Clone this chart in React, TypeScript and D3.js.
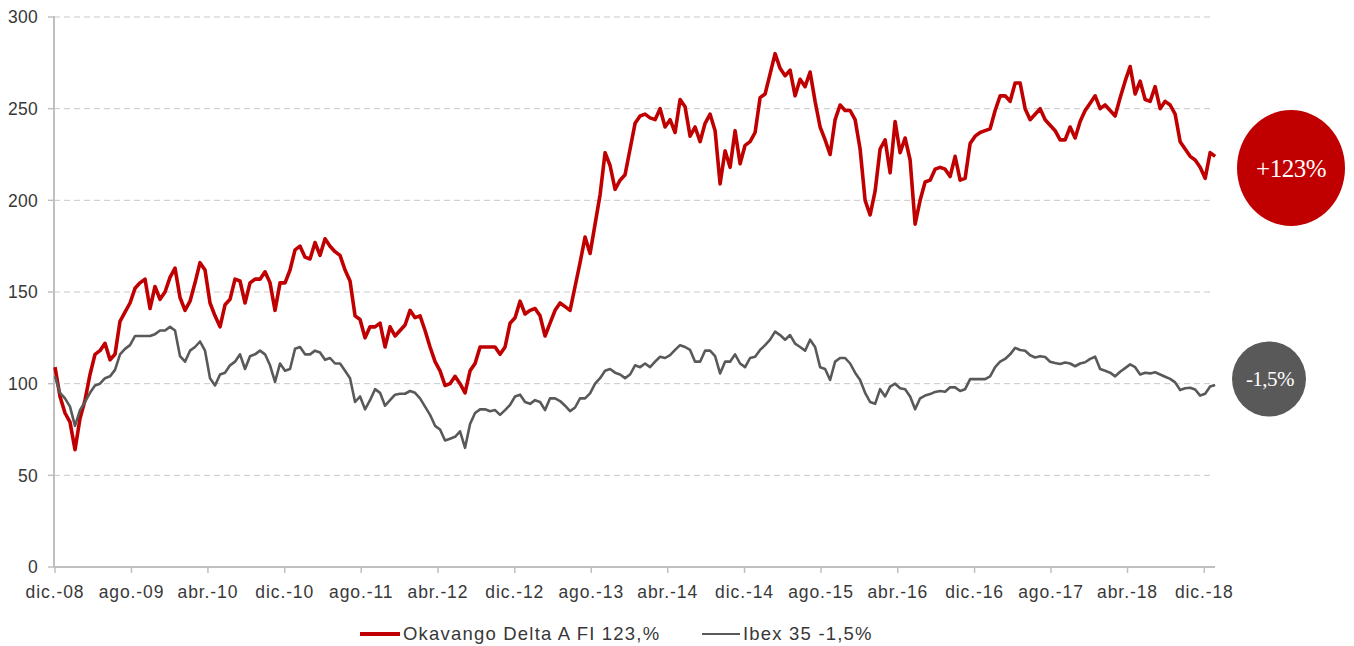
import * as d3 from 'd3';

// Fondo vs índice, base 100 (lecturas quincenales aprox.)
const okavango = [
  109, 93, 84, 79, 64, 81, 91, 105, 116, 118, 122, 113, 116, 134, 139, 144, 152, 155, 157, 141,
  153, 146, 150, 158, 163, 147, 140, 145, 155, 166, 162, 144, 137, 131, 143, 146, 157, 156, 144, 155,
  157, 157, 161, 155, 140, 155, 155, 162, 173, 175, 169, 168, 177, 170, 179, 175, 172, 170, 162, 156,
  137, 135, 125, 131, 131, 133, 120, 131, 126, 129, 132, 140, 136, 137, 129, 120, 112, 107, 99, 100,
  104, 100, 95, 107, 111, 120, 120, 120, 120, 116, 120, 133, 136, 145, 138, 140, 141, 137, 126, 133,
  140, 144, 142, 140, 153, 166, 180, 171, 187, 203, 226, 219, 206, 211, 214, 228, 242, 246, 247, 245,
  244, 250, 240, 244, 237, 255, 251, 235, 240, 232, 242, 247, 238, 209, 227, 218, 238, 220, 230, 232,
  237, 256, 258, 269, 280, 272, 268, 271, 257, 266, 262, 270, 254, 240, 233, 225, 244, 252, 249, 249,
  244, 228, 200, 192, 205, 228, 233, 215, 243, 226, 234, 222, 187, 200, 210, 211, 217, 218, 217, 213,
  224, 211, 212, 231, 235, 237, 238, 239, 249, 257, 257, 254, 264, 264, 250, 244, 247, 250, 244, 241,
  238, 233, 233, 240, 234, 243, 249, 253, 257, 250, 252, 249, 246, 256, 265, 273, 258, 265, 255, 254,
  262, 250, 254, 252, 247, 232, 228, 224, 222, 218, 212, 226, 224,
];

const ibex = [
  104, 95, 92, 87.5, 77, 85.6, 90, 95, 99, 100, 103, 104, 107.5, 116, 119, 121, 126, 126, 126, 126,
  127, 129, 129, 131, 129, 115, 112, 118, 120, 123, 118, 103, 99, 105, 106, 110, 112, 116, 108, 115,
  116, 118, 116, 110, 101, 111, 107, 108, 119, 120, 116, 116, 118, 117, 113, 114, 111, 111, 107, 103,
  90, 93, 86, 91, 97, 95, 88, 91, 94, 94.5, 94.5, 96, 95, 92, 87.5, 83, 77, 75, 69, 70,
  71, 74, 65, 78, 84, 86, 86, 85, 85.6, 83, 85.6, 88.4, 93, 94, 90, 89, 91, 90, 85.6, 92,
  92, 90.5, 88, 85, 87, 92, 92, 94.7, 100, 103, 107, 108, 106, 105, 103, 105, 110, 109, 111, 109,
  112, 114.7, 114, 115.6, 118.4, 121, 120, 118.4, 112, 112, 118, 118, 115, 105.6, 112, 112, 116, 111, 109, 114,
  114.7, 118.4, 121, 124, 128.4, 126.5, 124, 126.5, 121.8, 120, 118, 124, 120, 109, 108, 102, 112, 114, 114, 111,
  106, 102, 95, 90, 89, 97, 93, 98.4, 100, 97.5, 97, 93, 86, 92, 93.5, 94.3, 95.5, 96, 95.6, 98,
  98, 96, 97, 102.5, 102.5, 102.5, 102.5, 104, 109, 112, 113.5, 116, 119.5, 118.4, 118, 115.5, 114.3, 115, 114.5, 112,
  111.3, 110.7, 111.5, 111, 109.5, 111, 111.7, 113.5, 114.7, 108, 107, 106, 104, 106.5, 108.5, 110.5, 109, 105, 106, 105.6,
  106.2, 105, 103.8, 102.6, 100.7, 96.5, 97.5, 97.8, 96.8, 93.5, 94.5, 98.5, 99.3,
];

const startDate = new Date(2008, 11, 1);
const endDate = new Date(2019, 0, 4);
const stepDays = 15.89;
const dates = okavango.map((_, i) => new Date(startDate.getTime() + i * stepDays * 864e5));

const xTickLabels = [
  'dic.-08', 'ago.-09', 'abr.-10', 'dic.-10', 'ago.-11', 'abr.-12', 'dic.-12', 'ago.-13',
  'abr.-14', 'dic.-14', 'ago.-15', 'abr.-16', 'dic.-16', 'ago.-17', 'abr.-18', 'dic.-18',
];
const yTicks = [0, 50, 100, 150, 200, 250, 300];

const series = [
  { name: 'Okavango Delta A FI 123,%', values: okavango, color: '#c00000', width: 3.6 },
  { name: 'Ibex 35 -1,5%', values: ibex, color: '#595959', width: 2.6 },
];
const badges = [
  { label: '+123%', color: '#c00000' },
  { label: '-1,5%', color: '#595959' },
];

const W = 1354;
const H = 646;
const left = 55;
const right = 1215;
const top = 17;
const bottom = 567;

export default function App() {
  const x = d3.scaleTime().domain([startDate, endDate]).range([left, right]);
  const y = d3.scaleLinear().domain([0, 300]).range([bottom, top]);
  const tickDates = xTickLabels.map((_, i) => d3.timeMonth.offset(startDate, i * 8));

  const line = d3
    .line<number>()
    .x((_, i) => x(dates[i]))
    .y((d) => y(d))
    .curve(d3.curveLinear);

  const axisColor = '#bfbfbf';
  const font = '"Liberation Sans", Arial, sans-serif';

  return (
    <svg
      width={W}
      height={H}
      style={{ position: 'absolute', left: 0, top: 0, background: '#fff' }}
    >
      {/* grid */}
      {yTicks.filter((t) => t > 0).map((t) => (
        <line
          key={'g' + t}
          x1={left - 1}
          x2={right - 2}
          y1={y(t)}
          y2={y(t)}
          stroke="#c8c8c8"
          strokeWidth={1}
          strokeDasharray="6,4"
        />
      ))}

      {/* y axis */}
      <line x1={left - 1} x2={left - 1} y1={top - 1} y2={bottom} stroke={axisColor} strokeWidth={2} />
      {yTicks.map((t) => (
        <g key={'y' + t}>
          <line x1={left - 7} x2={left - 1} y1={y(t)} y2={y(t)} stroke={axisColor} strokeWidth={1.5} />
          <text
            x={38}
            y={y(t)}
            dy="0.36em"
            textAnchor="end"
            fontFamily={font}
            fontSize={17.5}
            letterSpacing={0.3}
            fill="#383838"
          >
            {t}
          </text>
        </g>
      ))}

      {/* x axis */}
      <line x1={left - 2} x2={right} y1={bottom} y2={bottom} stroke={axisColor} strokeWidth={2} />
      {tickDates.map((d, i) => (
        <g key={'x' + i}>
          <line x1={x(d)} x2={x(d)} y1={bottom} y2={bottom + 6} stroke={axisColor} strokeWidth={1.5} />
          <text
            x={x(d)}
            y={598}
            textAnchor="middle"
            fontFamily={font}
            fontSize={17.5}
            letterSpacing={0.9}
            fill="#383838"
          >
            {xTickLabels[i]}
          </text>
        </g>
      ))}

      {/* series */}
      {series.map((s) => (
        <path
          key={s.name}
          d={line(s.values) || ''}
          fill="none"
          stroke={s.color}
          strokeWidth={s.width}
          strokeLinejoin="round"
        />
      ))}

      {/* end badges */}
      <ellipse cx={1291} cy={168} rx={54} ry={58} fill={badges[0].color} />
      <text
        x={1291}
        y={168}
        dy="0.35em"
        textAnchor="middle"
        fontFamily='"Liberation Serif", "Times New Roman", serif'
        fontSize={25}
        fill="#fff"
        letterSpacing={-0.5}
      >
        {badges[0].label}
      </text>
      <ellipse cx={1269} cy={379} rx={37} ry={37.5} fill={badges[1].color} />
      <text
        x={1270}
        y={379}
        dy="0.35em"
        textAnchor="middle"
        fontFamily='"Liberation Serif", "Times New Roman", serif'
        fontSize={21}
        fill="#fff"
        letterSpacing={-0.5}
      >
        {badges[1].label}
      </text>

      {/* legend */}
      <line x1={360} x2={400} y1={634} y2={634} stroke={series[0].color} strokeWidth={4} />
      <text x={403} y={640} fontFamily={font} fontSize={18.5} letterSpacing={1.2} fill="#383838">
        {series[0].name}
      </text>
      <line x1={702} x2={740} y1={634} y2={634} stroke={series[1].color} strokeWidth={2} />
      <text x={743} y={640} fontFamily={font} fontSize={18.5} letterSpacing={1.2} fill="#383838">
        {series[1].name}
      </text>
    </svg>
  );
}
